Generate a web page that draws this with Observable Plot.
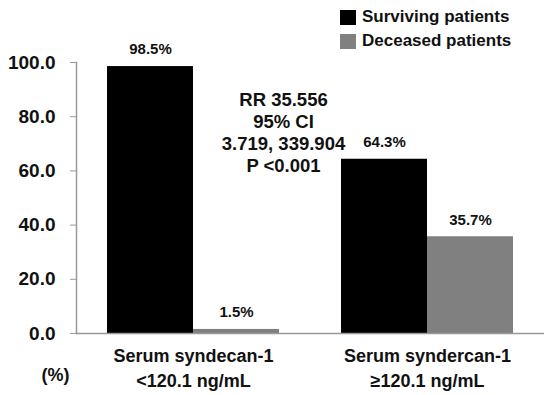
<!DOCTYPE html>
<html>
<head>
<meta charset="utf-8">
<script src="https://cdn.jsdelivr.net/npm/d3@7"></script>
<script src="https://cdn.jsdelivr.net/npm/@observablehq/plot@0.6"></script>
<style>
  html, body { margin: 0; padding: 0; background: #fff; }
  #wrap { position: relative; width: 560px; height: 395px; font-family: "Liberation Sans", Arial, sans-serif; }
  #legend { position: absolute; top: 5px; left: 340px; font-weight: bold; font-size: 17px; color: #111; line-height: 24px; }
  #legend .row { display: flex; align-items: center; white-space: nowrap; }
  #legend .sw { width: 16px; height: 15px; margin-right: 6px; display: inline-block; }
  svg { display: block; }
</style>
</head>
<body>
<div id="wrap"><div id="legend"></div></div>
<script>
const groups = ["Serum syndecan-1\n<120.1 ng/mL", "Serum syndercan-1\n≥120.1 ng/mL"];
const series = ["Surviving patients", "Deceased patients"];
const colors = ["#000000", "#808080"];
const surviving = [98.5, 64.3];
const deceased = [1.5, 35.7];
const yTicks = [0, 20, 40, 60, 80, 100];
const annotation = ["RR 35.556", "95% CI", "3.719, 339.904", "P <0.001"];
const yUnit = "(%)";

const data = [];
groups.forEach((g, i) => {
  data.push({group: g, series: series[0], value: surviving[i]});
  data.push({group: g, series: series[1], value: deceased[i]});
});

const font = "Liberation Sans, Arial, sans-serif";

const chart = Plot.plot({
  width: 560,
  height: 395,
  marginLeft: 76,
  marginRight: 16,
  marginTop: 62,
  marginBottom: 62,
  style: {fontFamily: font, background: "#fff", color: "#111"},
  fx: {domain: groups, padding: 0, label: null},
  x: {domain: series, paddingInner: 0, paddingOuter: 0.36, axis: null},
  y: {domain: [0, 100], axis: null, label: null},
  color: {domain: series, range: colors},
  marks: [
    Plot.barY(data, {fx: "group", x: "series", y: "value", fill: "series"}),
    Plot.ruleY([0], {stroke: "#999", strokeWidth: 1.5}),
    Plot.axisY({ticks: yTicks, tickFormat: d => d.toFixed(1), tickSize: 6, tickPadding: 15, label: null,
      fontSize: 19, fontWeight: "bold", stroke: "#999", fill: "#111"}),
    Plot.frame({anchor: "left", stroke: "#999", strokeWidth: 1.5, facetAnchor: "left"}),
    Plot.axisFx({anchor: "bottom", tickSize: 0, tickPadding: 11, fontSize: 18, fontWeight: "bold",
      lineHeight: 1.38, lineAnchor: "top", fill: "#111", label: null}),
    Plot.text(data, {fx: "group", x: "series", y: "value", text: d => d.value.toFixed(1) + "%",
      dy: -17, fontSize: 15, fontWeight: "bold", fill: "#111"}),
    Plot.text([annotation.join("\n")], {fx: () => groups[0], x: () => series[1], y: () => 74.5,
      text: d => d, dx: 47, fontSize: 18.5, fontWeight: "bold", lineHeight: 1.19, fill: "#111"}),
    Plot.text([yUnit], {fx: () => groups[0], frameAnchor: "bottom-left", text: d => d,
      dx: -21, dy: 47, textAnchor: "middle", fontSize: 18, fontWeight: "bold", fill: "#111"})
  ]
});
document.getElementById("wrap").appendChild(chart);

const legend = document.getElementById("legend");
series.forEach((s, i) => {
  const row = document.createElement("div");
  row.className = "row";
  row.innerHTML = `<span class="sw" style="background:${colors[i]}"></span><span>${s}</span>`;
  legend.appendChild(row);
});
</script>
</body>
</html>
